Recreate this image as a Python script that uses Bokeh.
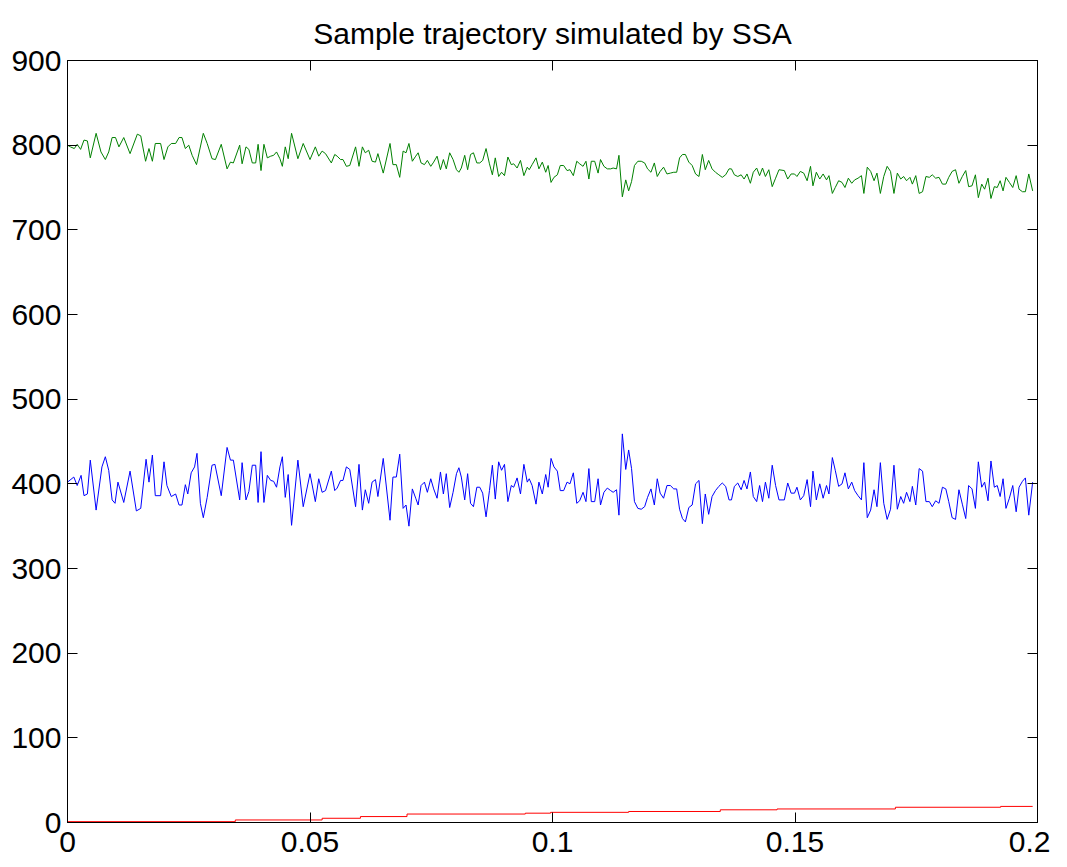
from bokeh.plotting import figure
from bokeh.models import LinearAxis, FixedTicker, Range1d
from bokeh.embed import file_html
from bokeh.resources import INLINE

# ---------------- data ----------------
x_ticks = [0, 0.05, 0.1, 0.15, 0.2]
x_tick_labels = ["0", "0.05", "0.1", "0.15", "0.2"]
y_ticks = [0, 100, 200, 300, 400, 500, 600, 700, 800, 900]
y_tick_labels = ["0", "100", "200", "300", "400", "500", "600", "700", "800", "900"]

t_blue_a = [0.0000, 0.0013, 0.0020, 0.0028, 0.0034, 0.0041, 0.0047, 0.0059, 0.0071, 0.0078,
            0.0085, 0.0092, 0.0098, 0.0104, 0.0116, 0.0129, 0.0142, 0.0151, 0.0162, 0.0168,
            0.0175, 0.0181, 0.0192, 0.0199, 0.0205, 0.0214, 0.0223, 0.0230, 0.0236, 0.0243,
            0.0248, 0.0255, 0.0262, 0.0267, 0.0274, 0.0280, 0.0288, 0.0298, 0.0304, 0.0317,
            0.0329, 0.0336, 0.0342, 0.0355, 0.0360, 0.0368, 0.0374, 0.0381, 0.0388, 0.0393,
            0.0399, 0.0405, 0.0412, 0.0419, 0.0425, 0.0431, 0.0438, 0.0443, 0.0449, 0.0455,
            0.0462, 0.0475, 0.0486, 0.0500, 0.0511, 0.0518, 0.0525, 0.0532, 0.0544, 0.0551,
            0.0556, 0.0563, 0.0568, 0.0575, 0.0582, 0.0594, 0.0601, 0.0608, 0.0614, 0.0621,
            0.0628, 0.0635, 0.0640, 0.0651, 0.0665]
blue_a = [402, 408, 398, 410, 386, 388, 428, 369, 420, 432,
          416, 381, 377, 402, 378, 415, 368, 371, 429, 402,
          434, 386, 386, 426, 398, 385, 388, 375, 375, 399,
          388, 413, 420, 436, 377, 360, 384, 422, 423, 386,
          443, 428, 428, 381, 425, 381, 391, 422, 422, 378,
          438, 378, 410, 404, 403, 396, 420, 432, 384, 411,
          351, 428, 373, 412, 379, 406, 390, 392, 415, 392,
          395, 404, 404, 420, 417, 373, 423, 369, 393, 377,
          402, 405, 385, 430, 357]

t_green_a = [0.0000, 0.0006, 0.0014, 0.0020, 0.0027, 0.0034, 0.0041, 0.0047, 0.0059, 0.0069,
             0.0078, 0.0085, 0.0092, 0.0099, 0.0106, 0.0116, 0.0129, 0.0144, 0.0151, 0.0161,
             0.0168, 0.0175, 0.0181, 0.0192, 0.0199, 0.0207, 0.0214, 0.0223, 0.0230, 0.0236,
             0.0243, 0.0250, 0.0257, 0.0266, 0.0280, 0.0288, 0.0298, 0.0305, 0.0317, 0.0329,
             0.0336, 0.0342, 0.0355, 0.0360, 0.0368, 0.0374, 0.0381, 0.0388, 0.0393, 0.0399,
             0.0405, 0.0412, 0.0419, 0.0425, 0.0431, 0.0438, 0.0443, 0.0449, 0.0455, 0.0462,
             0.0475, 0.0486, 0.0500, 0.0511, 0.0518, 0.0525, 0.0532, 0.0544, 0.0551, 0.0556,
             0.0563, 0.0568, 0.0575, 0.0582, 0.0594, 0.0601, 0.0608, 0.0614, 0.0621, 0.0628,
             0.0635, 0.0640, 0.0651, 0.0665]
green_a = [800, 798, 796, 801, 795, 806, 805, 785, 814, 792,
           783, 792, 809, 809, 798, 809, 790, 813, 811, 781,
           796, 781, 802, 802, 783, 798, 802, 802, 809, 809,
           796, 800, 788, 777, 814, 802, 784, 783, 801, 772,
           780, 779, 800, 778, 798, 795, 779, 779, 801, 770,
           801, 785, 787, 788, 792, 784, 775, 798, 784, 814,
           784, 802, 783, 798, 787, 793, 790, 779, 789, 787,
           783, 783, 775, 776, 798, 775, 798, 791, 794, 781,
           780, 790, 767, 802]

t_b = [0.0671, 0.0678, 0.0685, 0.0692, 0.0698, 0.0704, 0.0711, 0.0718, 0.0723, 0.0729,
       0.0736, 0.0742, 0.0749, 0.0755, 0.0762, 0.0769, 0.0775, 0.0781, 0.0788, 0.0795,
       0.0802, 0.0807, 0.0812, 0.0819, 0.0825, 0.0831, 0.0837, 0.0844, 0.0850, 0.0856,
       0.0863, 0.0870, 0.0876, 0.0882, 0.0889, 0.0895, 0.0901, 0.0908, 0.0915, 0.0920,
       0.0927, 0.0934, 0.0941, 0.0948, 0.0952, 0.0958, 0.0966, 0.0972, 0.0979, 0.0986,
       0.0991, 0.0997, 0.1003, 0.1010, 0.1016, 0.1023, 0.1030, 0.1036, 0.1043, 0.1050,
       0.1056, 0.1063, 0.1069, 0.1075, 0.1080, 0.1087, 0.1094, 0.1099, 0.1106, 0.1113,
       0.1120, 0.1125, 0.1132, 0.1137, 0.1144, 0.1151, 0.1157, 0.1163, 0.1169, 0.1176,
       0.1183, 0.1190, 0.1196, 0.1203, 0.1210, 0.1216, 0.1222, 0.1229, 0.1236, 0.1243,
       0.1250, 0.1256, 0.1262, 0.1268, 0.1274, 0.1281, 0.1288, 0.1295, 0.1302, 0.1309,
       0.1315, 0.1322]
blue_b = [408, 408, 435, 371, 375, 350, 394, 383, 375, 398,
          402, 390, 406, 394, 383, 414, 388, 412, 372, 390,
          412, 419, 408, 381, 412, 377, 373, 396, 396, 389,
          361, 392, 422, 382, 426, 416, 423, 379, 398, 396,
          407, 388, 423, 402, 406, 398, 376, 402, 388, 411,
          396, 430, 420, 415, 392, 392, 402, 400, 413, 377,
          380, 390, 379, 418, 379, 379, 406, 375, 390, 395,
          392, 390, 393, 363, 459, 417, 440, 418, 379, 371,
          370, 373, 384, 394, 375, 406, 389, 383, 398, 398,
          394, 394, 370, 359, 355, 372, 375, 400, 404, 353,
          388, 364]
green_b = [777, 777, 762, 793, 791, 802, 781, 787, 791, 779,
           777, 782, 775, 780, 787, 771, 783, 772, 791, 783,
           771, 768, 773, 788, 771, 789, 791, 779, 779, 782,
           796, 778, 765, 785, 763, 768, 764, 786, 777, 778,
           773, 782, 764, 774, 771, 777, 785, 772, 780, 768,
           776, 756, 762, 765, 776, 776, 770, 771, 764, 781,
           778, 775, 781, 760, 781, 781, 767, 783, 775, 772,
           772, 773, 772, 788, 739, 759, 746, 757, 776, 781,
           781, 779, 772, 768, 779, 763, 769, 774, 766, 767,
           768, 768, 785, 789, 789, 780, 776, 766, 763, 789,
           771, 782]

t_c = [0.1329, 0.1336, 0.1343, 0.1350, 0.1357, 0.1364, 0.1369, 0.1375, 0.1382, 0.1389,
       0.1395, 0.1401, 0.1408, 0.1414, 0.1421, 0.1427, 0.1433, 0.1439, 0.1446, 0.1453,
       0.1460, 0.1467, 0.1478, 0.1485, 0.1492, 0.1499, 0.1504, 0.1511, 0.1518, 0.1525,
       0.1532, 0.1537, 0.1544, 0.1551, 0.1558, 0.1565, 0.1570, 0.1577, 0.1583, 0.1590,
       0.1597, 0.1603, 0.1610, 0.1617, 0.1623, 0.1630, 0.1637, 0.1642, 0.1649, 0.1656,
       0.1663, 0.1669, 0.1676, 0.1683, 0.1690, 0.1697, 0.1704, 0.1711, 0.1718, 0.1724,
       0.1730, 0.1737, 0.1742, 0.1749, 0.1756, 0.1763, 0.1770, 0.1777, 0.1783, 0.1790,
       0.1797, 0.1804, 0.1811, 0.1817, 0.1824, 0.1831, 0.1838, 0.1845, 0.1852, 0.1858,
       0.1865, 0.1872, 0.1878, 0.1885, 0.1891, 0.1898, 0.1904, 0.1911, 0.1917, 0.1923,
       0.1929, 0.1935, 0.1942, 0.1949, 0.1956, 0.1962, 0.1969, 0.1975, 0.1982, 0.1990]
blue_c = [385, 392, 397, 401, 397, 381, 381, 397, 401, 393,
          404, 394, 414, 385, 379, 398, 379, 402, 383, 422,
          398, 381, 381, 401, 389, 389, 396, 381, 386, 405,
          373, 415, 381, 400, 383, 398, 388, 431, 416, 397,
          400, 413, 394, 402, 392, 386, 381, 425, 360, 369,
          393, 373, 425, 377, 358, 370, 422, 370, 385, 377,
          390, 379, 397, 375, 418, 415, 379, 379, 373, 380,
          377, 396, 394, 379, 360, 358, 393, 376, 359, 398,
          394, 371, 426, 396, 402, 380, 427, 396, 398, 385,
          406, 371, 383, 398, 367, 396, 403, 407, 363, 402]
green_c = [772, 768, 765, 762, 765, 772, 772, 765, 763, 765,
           760, 766, 755, 768, 773, 764, 773, 763, 771, 751,
           761, 771, 770, 760, 766, 766, 763, 769, 767, 758,
           775, 752, 768, 760, 766, 759, 764, 743, 750, 758,
           756, 750, 761, 755, 759, 761, 764, 743, 774, 769,
           758, 767, 743, 763, 775, 769, 743, 767, 760, 763,
           758, 762, 754, 764, 743, 745, 763, 762, 765, 761,
           762, 754, 754, 762, 769, 771, 755, 763, 770, 751,
           752, 765, 738, 754, 748, 761, 737, 751, 750, 758,
           746, 762, 756, 750, 764, 748, 745, 745, 766, 746]

t_red = [0.0, 0.0346, 0.0525, 0.0604, 0.0700, 0.0944, 0.0996, 0.1157, 0.1346, 0.1463, 0.1707, 0.1924, 0.1990]
red = [1, 3, 5, 7, 10, 11, 12, 13, 15, 16, 18, 19, 19]

t_blue = t_blue_a + t_b + t_c
blue = blue_a + blue_b + blue_c
t_green = t_green_a + t_b + t_c
green = green_a + green_b + green_c

# ---------------- figure ----------------
FONT = "Liberation Sans"
p = figure(width=1050, height=867, output_backend="svg", toolbar_location=None,
           x_range=Range1d(0, 0.2), y_range=Range1d(0, 900),
           min_border_left=67, min_border_right=13, min_border_top=60, min_border_bottom=45,
           title="Sample trajectory simulated by SSA")
p.title.align = "center"
p.title.text_font = FONT
p.title.text_font_size = "30px"
p.title.text_font_style = "normal"
p.title.text_color = "black"
p.title.standoff = 22

p.grid.visible = False
p.outline_line_color = "black"
p.outline_line_width = 1
p.background_fill_color = "white"
p.border_fill_color = "white"

xt = FixedTicker(ticks=x_ticks)
yt = FixedTicker(ticks=y_ticks)

for ax in p.xaxis:
    ax.ticker = xt
    ax.major_label_overrides = dict(zip(x_ticks, x_tick_labels))
    ax.major_label_standoff = 9
for ax in p.yaxis:
    ax.ticker = yt
    ax.major_label_overrides = dict(zip(y_ticks, y_tick_labels))
    ax.major_label_standoff = 6

for ax in list(p.xaxis) + list(p.yaxis):
    ax.major_tick_in = 10
    ax.major_tick_out = 0
    ax.minor_tick_line_color = None
    ax.axis_line_color = "black"
    ax.major_tick_line_color = "black"
    ax.major_label_text_font = FONT
    ax.major_label_text_font_size = "30px"
    ax.major_label_text_color = "black"

right_axis = LinearAxis(ticker=FixedTicker(ticks=y_ticks), major_tick_in=10, major_tick_out=0,
                        minor_tick_line_color=None, major_label_text_font_size="0px",
                        major_label_standoff=0, axis_line_color="black")
top_axis = LinearAxis(ticker=FixedTicker(ticks=x_ticks), major_tick_in=10, major_tick_out=0,
                      minor_tick_line_color=None, major_label_text_font_size="0px",
                      major_label_standoff=0, axis_line_color="black")
p.add_layout(right_axis, "right")
p.add_layout(top_axis, "above")

p.line(t_green, green, line_color="#008000", line_width=1)
p.line(t_blue, blue, line_color="#0000ff", line_width=1)
p.step(t_red, red, mode="after", line_color="#ff0000", line_width=1)

open("out.html", "w").write(file_html(p, INLINE))
